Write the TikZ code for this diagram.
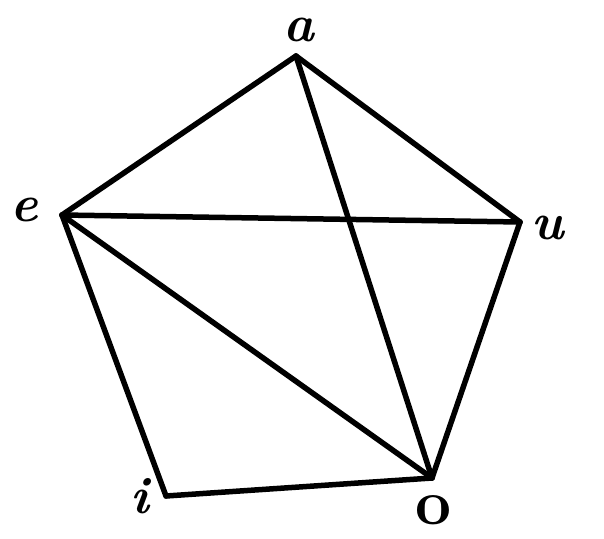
\documentclass[tikz,border=0pt]{standalone}
\begin{document}
\begin{tikzpicture}[x=1pt,y=-1pt,
  vtx/.style={coordinate},
  lbl/.style={font=\fontsize{52}{52}\selectfont\bfseries\itshape, inner sep=0pt},
  edge/.style={line width=5.5pt, line cap=round}]
\useasboundingbox (0,0) rectangle (604,538);
\coordinate (a) at (296,56);
\coordinate (e) at (62,215);
\coordinate (u) at (520,222);
\coordinate (o) at (432,478);
\coordinate (i) at (166,496);
\node[lbl] (la) at (299,30) {a};
\node[lbl] (le) at (24,210) {e};
\node[lbl] (lu) at (548,228) {u};
\node[lbl, font=\fontsize{64}{64}\selectfont\bfseries\upshape] (lo) at (434,510) {o};
\node[lbl] (li) at (140,496) {i};
\draw[edge] (a) -- (e);
\draw[edge] (a) -- (u);
\draw[edge] (a) -- (o);
\draw[edge] (e) -- (u);
\draw[edge] (e) -- (o);
\draw[edge] (e) -- (i);
\draw[edge] (i) -- (o);
\draw[edge] (u) -- (o);
\end{tikzpicture}
\end{document}
